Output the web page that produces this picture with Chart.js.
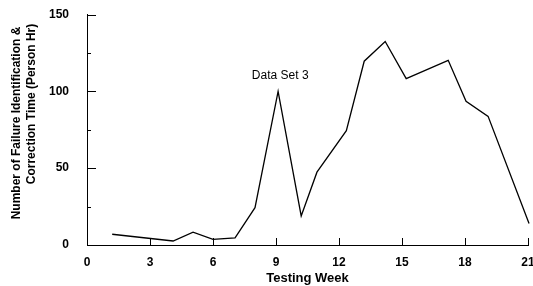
<!DOCTYPE html>
<html>
<head>
<meta charset="utf-8">
<script src="https://cdn.jsdelivr.net/npm/chart.js@4/dist/chart.umd.min.js"></script>
<style>
html,body{margin:0;padding:0;background:#fff;}
#wrap{width:533px;height:286px;position:relative;}
</style>
</head>
<body>
<div id="wrap"><canvas id="c" width="533" height="286"></canvas></div>
<script>
// Data
const weeks  = [1.2, 4.1, 5.05, 6.0, 7.05, 8.0, 9.1, 10.2, 10.95, 12.35, 13.2, 14.2, 15.2, 17.2, 18.05, 19.1, 21.05];
const hours  = [7, 2.6, 8.3, 3.7, 4.6, 24.3, 100, 18.9, 47.4, 74.4, 119.6, 132.4, 108.3, 120.2, 93.5, 83.7, 14];
const xTicks = [0, 3, 6, 9, 12, 15, 18, 21];
const yTicks = [0, 50, 100, 150];
const yMinorTicks = [25, 75, 125];
const xTitle = "Testing Week";
const yTitleLines = ["Number of Failure Identification &", "Correction Time (Person Hr)"];
const annotationText = "Data Set 3";
const annotationAt = {x: 9.2, y: 110.5};

const FONT = '"Liberation Sans", Arial, sans-serif';

function zeroPad(s) { s.paddingTop = 0; s.paddingBottom = 0; s.paddingLeft = 0; s.paddingRight = 0; }

const decor = {
  id: 'decor',
  afterDraw(chart) {
    const ctx = chart.ctx;
    const xs = chart.scales.x, ys = chart.scales.y;
    const left = chart.chartArea.left, bottom = chart.chartArea.bottom;
    ctx.save();
    ctx.strokeStyle = '#000';
    ctx.lineWidth = 1;
    ctx.beginPath();
    yTicks.forEach(v => { if (v === 0) return; const p = Math.round(ys.getPixelForValue(v)) + 0.5; ctx.moveTo(left, p); ctx.lineTo(left + 9, p); });
    yMinorTicks.forEach(v => { const p = Math.round(ys.getPixelForValue(v)) + 0.5; ctx.moveTo(left, p); ctx.lineTo(left + 4, p); });
    xTicks.forEach(v => { if (v === 0) return; const p = Math.round(xs.getPixelForValue(v)) + 0.5; ctx.moveTo(p, bottom); ctx.lineTo(p, bottom - 7); });
    ctx.stroke();
    ctx.fillStyle = '#000';
    ctx.font = '12px ' + FONT;
    ctx.textAlign = 'center';
    ctx.textBaseline = 'middle';
    ctx.fillText(annotationText, xs.getPixelForValue(annotationAt.x), ys.getPixelForValue(annotationAt.y));
    ctx.font = 'bold 12px ' + FONT;
    ctx.save();
    ctx.translate(17, 123);
    ctx.rotate(-Math.PI / 2);
    ctx.fillText(yTitleLines[0], 0, 0);
    ctx.restore();
    ctx.save();
    ctx.translate(32, 104);
    ctx.rotate(-Math.PI / 2);
    ctx.fillText(yTitleLines[1], 0, 0);
    ctx.restore();
    ctx.restore();
  }
};

new Chart(document.getElementById('c'), {
  type: 'line',
  data: {
    datasets: [{
      data: weeks.map((w, i) => ({x: w, y: hours[i]})),
      borderColor: '#000',
      borderWidth: 1.3,
      pointRadius: 0,
      tension: 0,
      fill: false,
      clip: false
    }]
  },
  options: {
    responsive: false,
    animation: false,
    devicePixelRatio: 1,
    layout: {padding: {top: 14.5, right: 5, left: 0, bottom: 0}},
    plugins: {legend: {display: false}, tooltip: {enabled: false}},
    scales: {
      x: {
        type: 'linear', min: 0, max: 21,
        afterBuildTicks(s) { s.ticks = xTicks.map(v => ({value: v})); },
        afterFit(s) { s.height = 41; zeroPad(s); },
        grid: {display: false, drawTicks: false},
        border: {display: true, color: '#000', width: 1},
        ticks: {color: '#000', font: {family: FONT, size: 12, weight: 'bold'}, padding: 10, maxRotation: 0},
        title: {display: true, text: xTitle, color: '#000', font: {family: FONT, size: 13, weight: 'bold'}, padding: {top: 5, bottom: 0}}
      },
      y: {
        type: 'linear', min: 0, max: 150,
        afterBuildTicks(s) { s.ticks = yTicks.map(v => ({value: v})); },
        afterFit(s) { s.width = 87; zeroPad(s); },
        grid: {display: false, drawTicks: false},
        border: {display: true, color: '#000', width: 1},
        ticks: {color: '#000', font: {family: FONT, size: 12, weight: 'bold'}, padding: 18}
      }
    }
  },
  plugins: [decor]
});
</script>
</body>
</html>
